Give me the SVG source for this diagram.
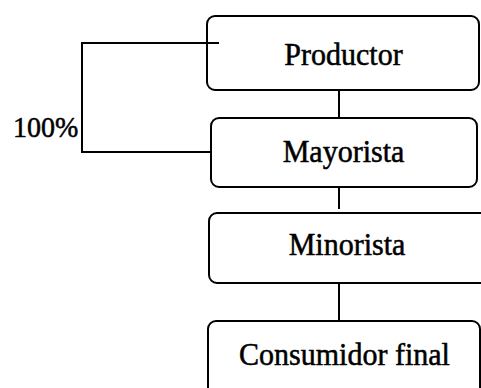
<svg xmlns="http://www.w3.org/2000/svg" width="481" height="388" viewBox="0 0 481 388">
<style>
.box{fill:none;stroke:#000;stroke-width:2}
.lbl{font-family:"Liberation Serif","Times New Roman",serif;font-size:30px;fill:#000;stroke:#000;stroke-width:0.5;text-anchor:middle}
.con{fill:none;stroke:#000;stroke-width:2}
</style>
<rect width="481" height="388" fill="#fff"/>
<g id="productor">
<rect class="box" x="207" y="16" width="272" height="74" rx="8"/>
<text class="lbl" x="343.5" y="65" transform="translate(0,65) scale(1,1.08) translate(0,-65)">Productor</text>
</g>
<g id="mayorista">
<rect class="box" x="211" y="118" width="266" height="69" rx="8"/>
<text class="lbl" x="343.5" y="162" transform="translate(0,162) scale(1,1.08) translate(0,-162)">Mayorista</text>
</g>
<g id="minorista">
<path class="box" d="M482,213 H217 A8,8 0 0 0 209,221 V275 A8,8 0 0 0 217,283 H482"/>
<text class="lbl" x="347" y="255" transform="translate(0,255) scale(1,1.08) translate(0,-255)">Minorista</text>
</g>
<g id="consumidor">
<path class="box" d="M208,390 V329 A8,8 0 0 1 216,321 H472 A8,8 0 0 1 480,329 V390"/>
<text class="lbl" x="344.5" y="365" transform="translate(0,365) scale(1,1.08) translate(0,-365)">Consumidor final</text>
</g>
<g id="connectors">
<line class="con" x1="339" y1="90" x2="339" y2="118"/>
<line class="con" x1="339" y1="187" x2="339" y2="209"/>
<line class="con" x1="339" y1="283" x2="339" y2="321"/>
<polyline class="con" points="219,43 82,43 82,152 211,152"/>
<text x="13" y="137" transform="translate(0,137) scale(1,1.08) translate(0,-137)" style="font-family:'Liberation Serif','Times New Roman',serif;font-size:28px;fill:#000;stroke:#000;stroke-width:0.5">100%</text>
</g>
</svg>
